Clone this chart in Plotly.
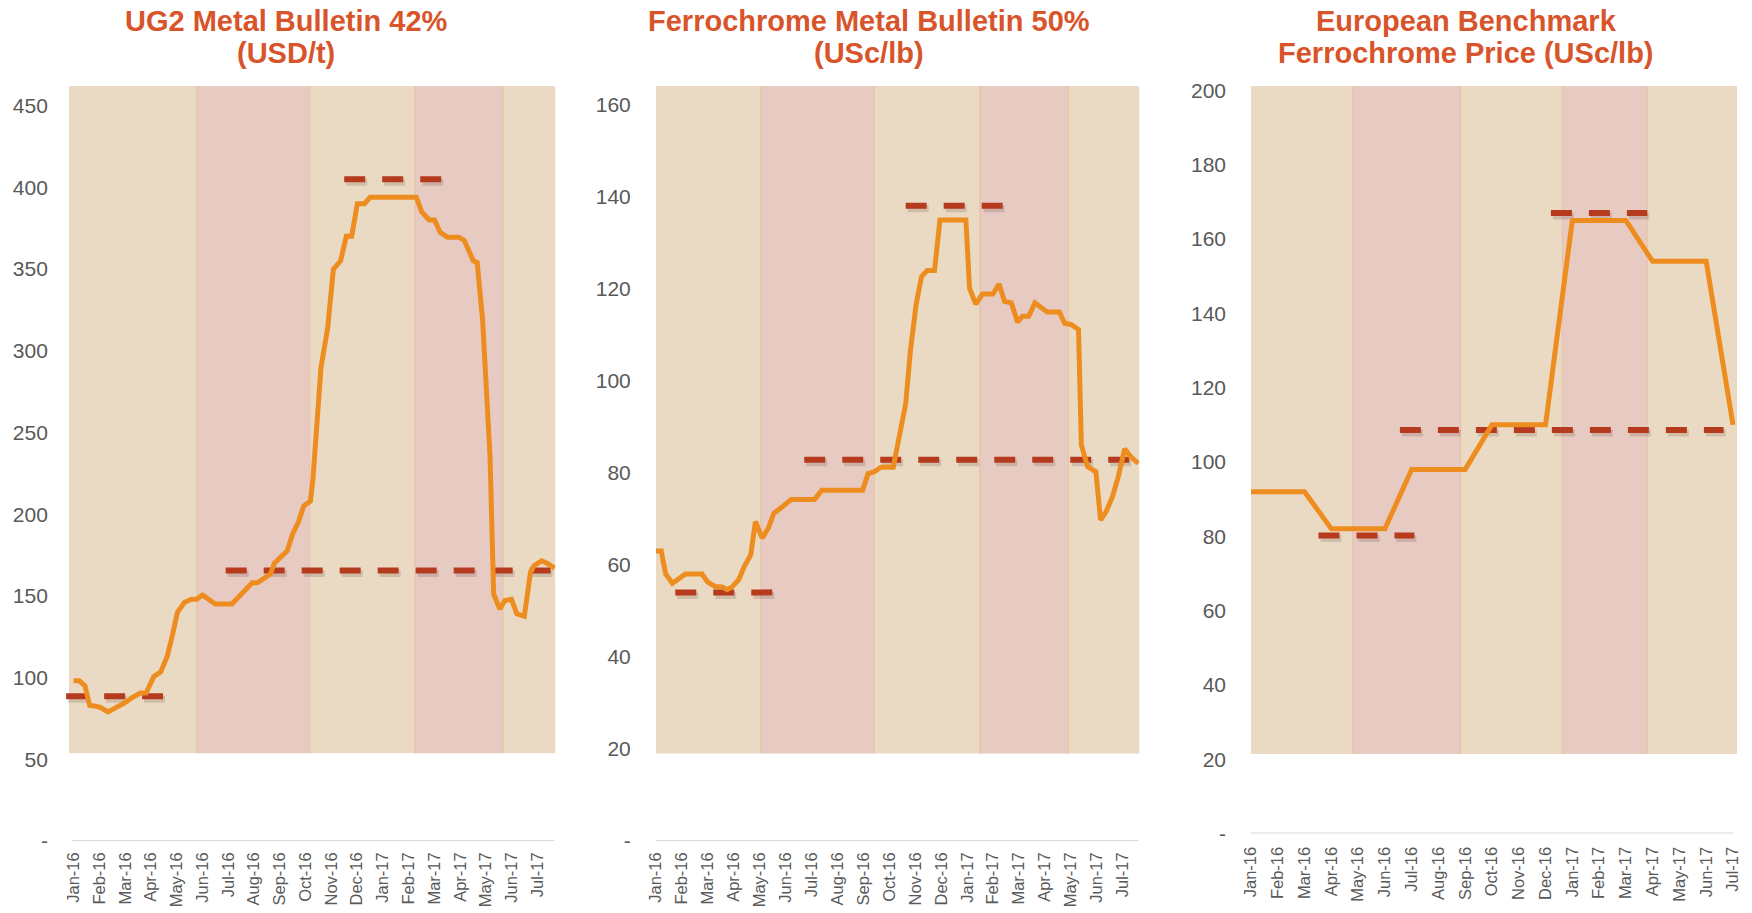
import plotly.graph_objects as go

# ---------------- data ----------------
month_labels = ["Jan-16", "Feb-16", "Mar-16", "Apr-16", "May-16", "Jun-16", "Jul-16",
                "Aug-16", "Sep-16", "Oct-16", "Nov-16", "Dec-16", "Jan-17", "Feb-17",
                "Mar-17", "Apr-17", "May-17", "Jun-17", "Jul-17"]
month_pos = list(range(len(month_labels)))

# Chart 1: UG2 Metal Bulletin 42% (USD/t); x in months since Jan-16
ug2_x = [0, 0.22, 0.44, 0.62, 0.86, 1.07, 1.33, 1.63, 1.93, 2.30, 2.59, 2.81, 3.11, 3.38,
         3.63, 3.82, 4.03, 4.30, 4.57, 4.78, 5.0, 5.5, 6.14, 6.57, 6.93, 7.14, 7.36, 7.64,
         7.79, 8.29, 8.50, 8.72, 8.93, 9.19, 9.29, 9.43, 9.6, 9.86, 10.08, 10.36, 10.58,
         10.79, 11.01, 11.29, 11.51, 13.3, 13.51, 13.8, 14.01, 14.22, 14.51, 14.94, 15.16,
         15.51, 15.66, 15.87, 16.01, 16.16, 16.3, 16.54, 16.73, 16.99, 17.2, 17.49, 17.73,
         17.87, 18.16, 18.37, 18.66]
ug2_y = [98, 98, 95, 83, 82.5, 81.5, 79, 81.5, 84, 88, 90.5, 90.5, 100.5, 103.5,
         113, 125, 140, 146, 148, 148, 150.5, 145, 145, 152, 158, 158, 160.5, 163.5,
         170, 177.5, 188, 195, 205, 208, 222, 251, 290, 314, 350, 355, 370,
         370, 390, 390, 394, 394, 385, 380, 380, 372.5, 369.5, 369.5, 367.5,
         355, 354, 319, 281, 235, 151, 142, 147, 148, 139, 137.5, 164.5,
         168.5, 171.5, 170, 167]
ug2_avg_start = [-0.29, 5.9, 10.5]
ug2_avg_end = [3.47, 18.7, 14.3]
ug2_avg_value = [88.5, 165.5, 405]
ug2_periods = [-0.18, 4.78, 9.16, 13.25, 16.66, 18.7]
ug2_ticks = [0, 50, 100, 150, 200, 250, 300, 350, 400, 450]

# Chart 2: Ferrochrome Metal Bulletin 50% (USc/lb)
fcr_x = [0, 0.21, 0.38, 0.64, 1.14, 1.78, 1.99, 2.28, 2.56, 2.75, 2.94, 3.2, 3.41, 3.66,
         3.84, 4.1, 4.34, 4.55, 4.88, 5.22, 6.12, 6.4, 7.97, 8.18, 8.42, 8.68, 9.15, 9.29,
         9.46, 9.63, 9.81, 10.03, 10.24, 10.46, 10.74, 10.95, 11.95, 12.09, 12.33, 12.59,
         12.99, 13.23, 13.44, 13.7, 13.94, 14.13, 14.37, 14.61, 15.08, 15.55, 15.76, 16.0,
         16.29, 16.4, 16.64, 16.96, 17.14, 17.35, 17.6, 17.82, 18.07, 18.28, 18.59]
fcr_y = [63, 63, 58, 56, 58, 58, 56.3, 55.3, 55.2, 54.6, 55.2, 56.8, 59.6, 62.2,
         69.4, 65.8, 68, 71.2, 72.6, 74.2, 74.2, 76.2, 76.2, 79.8, 80.2, 81.2, 81.2, 84.9,
         89.9, 95, 106.4, 116.5, 122.6, 123.9, 123.9, 134.9, 134.9, 120.1, 116.6, 118.8,
         118.8, 121, 117.2, 116.9, 112.7, 114, 114, 116.9, 114.9, 114.9, 112.4, 112.2,
         111.1, 86, 81.3, 80.2, 69.7, 71.5, 74.8, 79.1, 85.2, 83.6, 82]
fcr_avg_start = [0.75, 5.72, 9.63]
fcr_avg_end = [4.51, 18.63, 13.37]
fcr_avg_value = [54, 82.8, 138]
fcr_periods = [0, 4.05, 8.42, 12.49, 15.9, 18.64]
fcr_ticks = [0, 20, 40, 60, 80, 100, 120, 140, 160]

# Chart 3: European Benchmark Ferrochrome Price (USc/lb), monthly
eb_x = month_pos
eb_y = [92, 92, 92, 82, 82, 82, 98, 98, 98, 110, 110, 110, 165, 165, 165, 154, 154, 154, 110]
eb_avg_start = [2.52, 5.56, 11.2]
eb_avg_end = [6.1, 17.65, 14.8]
eb_avg_value = [80.2, 108.6, 167]
eb_periods = [0, 3.8, 7.83, 11.63, 14.8, 18.15]
eb_ticks = [0, 20, 40, 60, 80, 100, 120, 140, 160, 180, 200]

# ---------------- styling ----------------
W, H = 1752, 913
FONT = "Liberation Sans, Arial, sans-serif"
ORANGE = "#EE8D1F"
DASHRED = "#B53A1E"
TITLE = "#D8542A"
GREY = "#595959"
BEIGE = "#EBDAC3"
PINK = "#E7CBC2"

panels = [
    dict(ax="x", ay="y", xdom=[65.9, 555.5], ybot=841, ytop=86, xr=[-0.3, 18.7],
         yr=[0, 462], band_y0=53.7, axis_line=[-0.06, 18.64],
         x=ug2_x, y=ug2_y, s=ug2_avg_start, e=ug2_avg_end, v=ug2_avg_value,
         periods=ug2_periods, ticks=ug2_ticks, standoff=17, xstand=7,
         title=["UG2 Metal Bulletin 42%", "(USD/t)"], tx=286),
    dict(ax="x2", ay="y2", xdom=[655.8, 1139.5], ybot=841, ytop=86, xr=[0, 18.64],
         yr=[0, 164], band_y0=19, axis_line=[-0.01, 18.6],
         x=fcr_x, y=fcr_y, s=fcr_avg_start, e=fcr_avg_end, v=fcr_avg_value,
         periods=fcr_periods, ticks=fcr_ticks, standoff=24, xstand=7,
         title=["Ferrochrome Metal Bulletin 50%", "(USc/lb)"], tx=869),
    dict(ax="x3", ay="y3", xdom=[1251, 1737], ybot=833.5, ytop=86, xr=[0, 18.15],
         yr=[0, 201.2], band_y0=21.4, axis_line=[0, 18.0],
         x=eb_x, y=eb_y, s=eb_avg_start, e=eb_avg_end, v=eb_avg_value,
         periods=eb_periods, ticks=eb_ticks, standoff=24, xstand=9,
         title=["European Benchmark", "Ferrochrome Price (USc/lb)"], tx=1466),
]

fig = go.Figure()
shapes = []
annotations = []
layout = {}

for i, p in enumerate(panels):
    sfx = "" if i == 0 else str(i + 1)
    # px per data unit (for the soft drop shadow under the average dashes)
    ppu_y = (p["ybot"] - p["ytop"]) / (p["yr"][1] - p["yr"][0])
    ppu_x = (p["xdom"][1] - p["xdom"][0]) / (p["xr"][1] - p["xr"][0])
    # period shading
    per = p["periods"]
    for k in range(len(per) - 1):
        shapes.append(dict(type="rect", xref=p["ax"], yref=p["ay"], layer="below",
                           x0=per[k], x1=per[k + 1], y0=p["band_y0"], y1=p["yr"][1],
                           fillcolor=BEIGE if k % 2 == 0 else PINK, line=dict(width=0)))
    for k in range(1, len(per) - 1):
        shapes.append(dict(type="line", xref=p["ax"], yref=p["ay"], layer="below",
                           x0=per[k], x1=per[k], y0=p["band_y0"], y1=p["yr"][1],
                           line=dict(color="rgba(232,170,120,0.55)", width=1)))
    # category axis line
    shapes.append(dict(type="line", xref=p["ax"], yref=p["ay"], layer="below",
                       x0=p["axis_line"][0], x1=p["axis_line"][1], y0=0, y1=0,
                       line=dict(color="#D9D9D9", width=2)))
    # average dashed lines (with soft shadow)
    for s, e, v in zip(p["s"], p["e"], p["v"]):
        dx, dy = 2.0 / ppu_x, 3.0 / ppu_y
        fig.add_trace(go.Scatter(x=[s + dx, e + dx], y=[v - dy, v - dy], mode="lines",
                                 xaxis=p["ax"], yaxis=p["ay"],
                                 line=dict(color="rgba(60,40,30,0.16)", width=7, dash="21px,17px"),
                                 showlegend=False, hoverinfo="skip"))
        fig.add_trace(go.Scatter(x=[s, e], y=[v, v], mode="lines", xaxis=p["ax"], yaxis=p["ay"],
                                 line=dict(color=DASHRED, width=6, dash="21px,17px"),
                                 showlegend=False, hoverinfo="skip"))
    # price line
    fig.add_trace(go.Scatter(x=p["x"], y=p["y"], mode="lines", xaxis=p["ax"], yaxis=p["ay"],
                             line=dict(color=ORANGE, width=5), showlegend=False))

    layout["xaxis" + sfx] = dict(
        domain=[p["xdom"][0] / W, p["xdom"][1] / W], range=p["xr"], anchor=p["ay"],
        tickmode="array", tickvals=month_pos, ticktext=month_labels, tickangle=-90,
        tickfont=dict(family=FONT, size=16.5, color=GREY), showgrid=False, zeroline=False,
        showline=False, ticks="", fixedrange=True, ticklabelstandoff=p["xstand"],
        automargin=False)
    layout["yaxis" + sfx] = dict(
        domain=[(H - p["ybot"]) / H, (H - p["ytop"]) / H], range=p["yr"], anchor=p["ax"],
        tickmode="array", tickvals=p["ticks"],
        ticktext=["-"] + [str(t) for t in p["ticks"][1:]],
        tickfont=dict(family=FONT, size=21, color=GREY), showgrid=False, zeroline=False,
        showline=False, ticks="", fixedrange=True, ticklabelstandoff=p["standoff"],
        automargin=False)
    for li, (txt, ypx) in enumerate(zip(p["title"], [21, 53])):
        annotations.append(dict(text="<b>" + txt + "</b>", xref="paper", yref="paper",
                                x=p["tx"] / W, y=(H - ypx) / H, xanchor="center",
                                yanchor="middle", showarrow=False,
                                font=dict(family=FONT, size=29, color=TITLE)))

fig.update_layout(template="none", width=W, height=H, margin=dict(l=0, r=0, t=0, b=0, pad=0),
                  autosize=False, paper_bgcolor="white", plot_bgcolor="white",
                  shapes=shapes, annotations=annotations, **layout)

fig.write_html("out.html", config={"displayModeBar": False},
               post_script="document.body.style.margin='0';document.body.style.overflow='hidden';")
